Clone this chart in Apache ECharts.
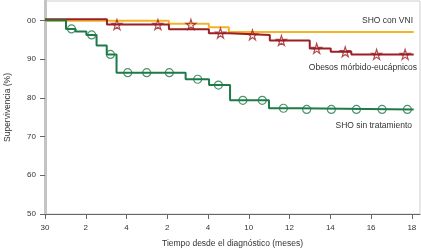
<!DOCTYPE html>
<html>
<head>
<meta charset="utf-8">
<script src="https://cdn.jsdelivr.net/npm/echarts@6/dist/echarts.min.js"></script>
<style>
  html, body { margin: 0; padding: 0; background: #fff; }
  #chart { width: 421px; height: 250px; }
</style>
</head>
<body>
<div id="chart"></div>
<script>
// ticks y etiquetas tal como aparecen en la figura
const xTicks = [0, 2, 4, 6, 8, 10, 12, 14, 16, 18];
const xLabels = ['30', '2', '4', '2', '4', '10', '12', '14', '16', '18'];
const yTicks = [50, 60, 70, 80, 90, 100];
const yLabels = ['50', '60', '70', '80', '90', '00'];

// SHO con VNI
const vniTime = [0, 6.08, 8.04, 9.02, 18.09];
const vniSurv = [99.9, 99.1, 98.2, 97.0, 97.0];

// Obesos mórbido-eucápnicos
const obTime = [0, 3.04, 6.08, 8.04, 9.02, 11.03, 12.99, 14.02, 15.03, 18.09];
const obSurv = [100.3, 98.9, 97.7, 96.7, 96.25, 94.8, 92.75, 91.9, 91.2, 91.2];
const obCensTime = [3.53, 5.54, 7.16, 8.61, 10.18, 11.6, 13.33, 14.73, 16.27, 17.67];
const obCensSurv = [98.9, 98.9, 98.95, 96.7, 96.25, 94.8, 92.75, 91.9, 91.2, 91.2];

// SHO sin tratamiento
const sinTime = [0, 1.03, 1.5, 2.03, 2.53, 3.03, 3.51, 6.9, 8.05, 9.08, 10.99, 12.4, 18.09];
const sinSurv = [100, 97.8, 97.1, 96.25, 93.5, 91.2, 86.5, 84.8, 83.3, 79.35, 77.3, 77.0, 77.0];
const sinCensTime = [1.3, 2.29, 3.21, 4.06, 4.99, 6.1, 7.49, 8.51, 9.71, 10.66, 11.7, 12.84, 14.05, 15.28, 16.54, 17.78];
const sinCensSurv = [97.8, 96.25, 91.2, 86.5, 86.5, 86.5, 84.8, 83.3, 79.35, 79.35, 77.3, 77.0, 77.0, 77.0, 77.0, 77.0];

const zip = (a, b) => a.map((v, i) => [v, b[i]]);

const STAR = 'path://M50,0 L61,35 L98,35 L68,57 L79,91 L50,70 L21,91 L32,57 L2,35 L39,35 Z';
const FONT = 'Liberation Sans, Arial, sans-serif';
const YELLOW = '#f4b227';
const RED = '#9c1f24';
const GREEN = '#1f7a47';

const chart = echarts.init(document.getElementById('chart'));

chart.setOption({
  animation: false,
  grid: {
    left: 45, right: 1, top: 1, bottom: 36,
    outerBoundsMode: 'none', containLabel: false,
    show: true, borderColor: '#cfcfcf', borderWidth: 1
  },
  xAxis: {
    type: 'value', min: 0, max: 18.4,
    name: 'Tiempo desde el diagnóstico (meses)',
    nameLocation: 'middle', nameGap: 25,
    nameTextStyle: { fontFamily: FONT, fontSize: 8.5, color: '#333' },
    axisLine: { show: true, lineStyle: { color: '#666', width: 1 } },
    axisTick: { show: true, length: 5, customValues: xTicks, lineStyle: { color: '#666' } },
    axisLabel: {
      customValues: xTicks, margin: 10,
      fontFamily: FONT, fontSize: 8, color: '#333',
      formatter: v => xLabels[xTicks.indexOf(v)]
    },
    splitLine: { show: false }
  },
  yAxis: {
    type: 'value', min: 50, max: 105,
    name: 'Supervivencia (%)',
    nameLocation: 'middle', nameGap: 33,
    nameTextStyle: { fontFamily: FONT, fontSize: 8.5, color: '#333' },
    axisLine: { show: true, lineStyle: { color: '#c4c4c4', width: 3 } },
    axisTick: { show: true, length: 5, customValues: yTicks, lineStyle: { color: '#666' } },
    axisLabel: {
      customValues: yTicks, margin: 9,
      fontFamily: FONT, fontSize: 8, color: '#333',
      formatter: v => yLabels[yTicks.indexOf(v)]
    },
    splitLine: { show: false }
  },
  series: [
    {
      name: 'SHO con VNI', type: 'line', step: 'end',
      data: zip(vniTime, vniSurv), showSymbol: false,
      lineStyle: { color: YELLOW, width: 2 }, z: 2
    },
    {
      name: 'Obesos mórbido-eucápnicos', type: 'line', step: 'end',
      data: zip(obTime, obSurv), showSymbol: false,
      lineStyle: { color: RED, width: 2 }, z: 3
    },
    {
      name: 'SHO sin tratamiento', type: 'line', step: 'end',
      data: zip(sinTime, sinSurv), showSymbol: false,
      lineStyle: { color: GREEN, width: 2 }, z: 4
    },
    {
      type: 'scatter', data: zip(obCensTime, obCensSurv),
      symbol: STAR, symbolSize: 10,
      itemStyle: { color: 'transparent', borderColor: RED, borderWidth: 1.2 }, z: 5
    },
    {
      type: 'scatter', data: zip(sinCensTime, sinCensSurv),
      symbol: 'circle', symbolSize: 8,
      itemStyle: { color: 'transparent', borderColor: GREEN, borderWidth: 1.2 }, z: 5
    }
  ],
  graphic: [
    { type: 'text', right: 8, top: 16, style: { text: 'SHO con VNI', font: '8.5px ' + FONT, fill: '#333' } },
    { type: 'text', right: 4, top: 63, style: { text: 'Obesos mórbido-eucápnicos', font: '8.5px ' + FONT, fill: '#333' } },
    { type: 'text', right: 9, top: 121, style: { text: 'SHO sin tratamiento', font: '8.5px ' + FONT, fill: '#333' } }
  ]
});
</script>
</body>
</html>
